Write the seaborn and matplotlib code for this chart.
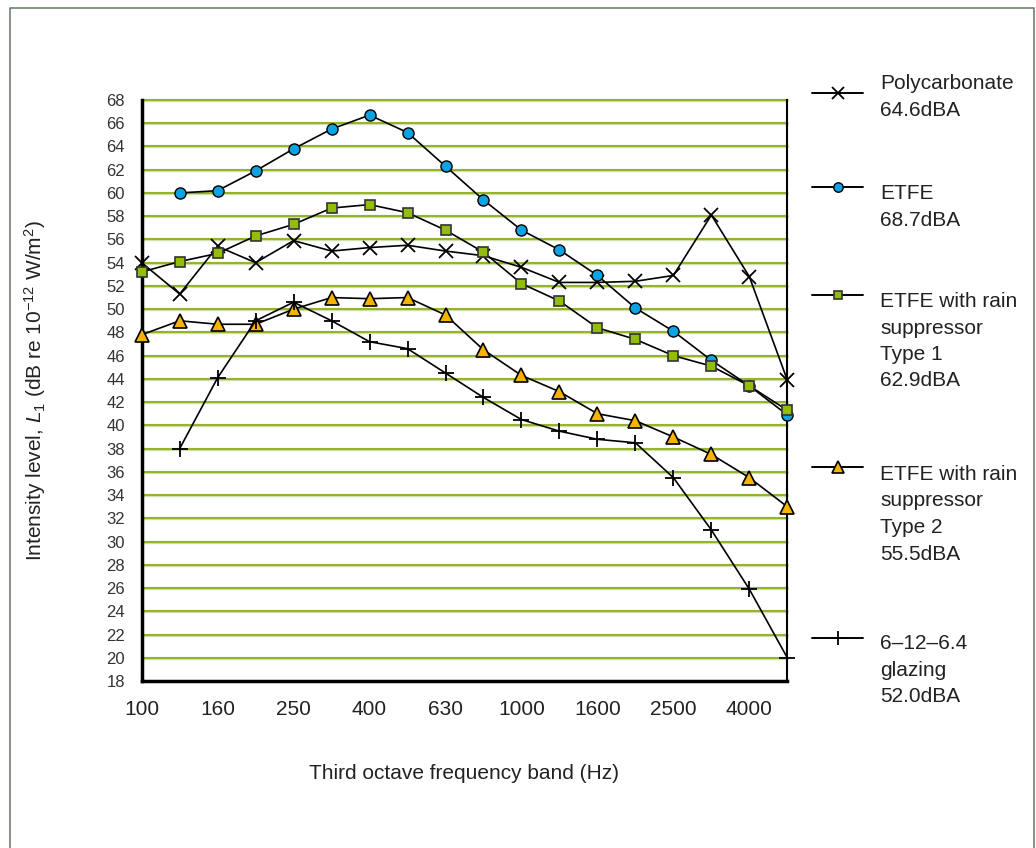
import matplotlib
matplotlib.use("Agg")
import matplotlib.pyplot as plt
from matplotlib.lines import Line2D
import numpy as np
import pandas as pd
import seaborn as sns

# third octave bands (Hz)
bands = [100, 125, 160, 200, 250, 315, 400, 500, 630, 800,
         1000, 1250, 1600, 2000, 2500, 3150, 4000, 5000]

polycarbonate = [54.0, 51.3, 55.4, 54.0, 55.9, 55.0, 55.3, 55.5, 55.0, 54.6,
                 53.6, 52.3, 52.3, 52.4, 52.9, 58.1, 52.8, 43.9]
etfe = [np.nan, 60.0, 60.2, 61.9, 63.8, 65.5, 66.7, 65.2, 62.3, 59.4,
        56.8, 55.1, 52.9, 50.1, 48.1, 45.6, 43.4, 40.9]
etfe_type1 = [53.2, 54.1, 54.8, 56.3, 57.3, 58.7, 59.0, 58.3, 56.8, 54.9,
              52.2, 50.7, 48.4, 47.4, 46.0, 45.1, 43.4, 41.3]
etfe_type2 = [47.8, 49.0, 48.7, 48.7, 50.0, 51.0, 50.9, 51.0, 49.5, 46.5,
              44.3, 42.9, 41.0, 40.4, 39.0, 37.5, 35.5, 33.0]
glazing = [np.nan, 38.0, 44.1, 49.0, 50.6, 49.0, 47.2, 46.6, 44.5, 42.4,
           40.5, 39.5, 38.8, 38.5, 35.5, 31.0, 25.9, 20.0]

series_names = ["Polycarbonate", "ETFE", "ETFE with rain suppressor Type 1",
                "ETFE with rain suppressor Type 2", "6-12-6.4 glazing"]
legend_labels = ["Polycarbonate\n64.6dBA",
                 "ETFE\n68.7dBA",
                 "ETFE with rain\nsuppressor\nType 1\n62.9dBA",
                 "ETFE with rain\nsuppressor\nType 2\n55.5dBA",
                 "6\u201312\u20136.4\nglazing\n52.0dBA"]

df = pd.DataFrame({"band": bands, series_names[0]: polycarbonate, series_names[1]: etfe,
                   series_names[2]: etfe_type1, series_names[3]: etfe_type2,
                   series_names[4]: glazing})
df["pos"] = np.arange(len(bands))
long = df.melt(id_vars=["band", "pos"], var_name="series", value_name="level").dropna()

sns.set_style("white")
plt.rcParams["font.family"] = ["Liberation Sans", "DejaVu Sans"]
plt.rcParams["mathtext.fontset"] = "custom"
plt.rcParams["mathtext.rm"] = "Liberation Sans"
plt.rcParams["mathtext.it"] = "Liberation Sans:italic"

styles = {
    series_names[0]: dict(marker="x", ms=10, mfc="black", mec="black", mew=1.3),
    series_names[1]: dict(marker="o", ms=8, mfc="#0ba3e3", mec="black", mew=1.0),
    series_names[2]: dict(marker="s", ms=7.5, mfc="#92bd0a", mec="#333333", mew=1.2),
    series_names[3]: dict(marker="^", ms=10, mfc="#f6b400", mec="black", mew=1.2),
    series_names[4]: dict(marker="+", ms=12, mfc="black", mec="black", mew=1.3),
}

fig = plt.figure(figsize=(10.36, 8.48), dpi=100)
ax = fig.add_axes([141.7 / 1036, 1 - 681 / 848, (787.3 - 141.7) / 1036, (681 - 100) / 848])

# grid lines (olive with a pale edge)
for v in range(20, 69, 2):
    ax.axhline(v, color="#cfe0a8", lw=2.4, zorder=0)
    ax.axhline(v, color="#84a50c", lw=1.1, zorder=0)

for name in series_names:
    sub = long[long["series"] == name]
    sns.lineplot(data=sub, x="pos", y="level", ax=ax, color="black", lw=1.2,
                 estimator=None, sort=False, legend=False, zorder=3, **styles[name])
for ln in ax.lines:
    ln.set_clip_on(False)

ax.set_xlim(0, len(bands) - 1)
ax.set_ylim(18, 68)
ax.set_xticks(np.arange(len(bands)))
ax.set_xticklabels([str(b) if i % 2 == 0 else "" for i, b in enumerate(bands)])
ax.set_yticks(range(18, 69, 2))
ax.set_yticklabels([str(v) for v in range(18, 69, 2)])
ax.tick_params(axis="x", direction="out", length=8, width=2, labelsize=15, pad=6,
               colors="black", labelcolor="#222222")
ax.tick_params(axis="y", direction="out", length=7, width=2, labelsize=12, pad=5,
               colors="black", labelcolor="#333333")
ax.set_xlabel("Third octave frequency band (Hz)", fontsize=15, labelpad=32, color="#222222")
ax.set_ylabel(r"Intensity level, $\mathit{L}_1$ (dB re 10$^{-12}$ W/m$^2$)",
              fontsize=15, color="#222222")
ax.yaxis.set_label_coords((48 - 141.7) / 645.6, 0.5)

ax.spines["top"].set_visible(False)
ax.spines["left"].set_linewidth(2.5)
ax.spines["bottom"].set_linewidth(2.5)
ax.spines["right"].set_linewidth(1.5)
for s in ["left", "bottom", "right"]:
    ax.spines[s].set_color("black")

# legend at the right
legend_y = [93, 187, 295, 467, 638]
text_y = [74, 184, 292, 465, 634]
for name, lab, ly, ty in zip(series_names, legend_labels, legend_y, text_y):
    st = dict(styles[name])
    st["ms"] = st["ms"] * 0.85
    fig.add_artist(Line2D([812 / 1036, 863 / 1036], [1 - ly / 848, 1 - ly / 848],
                          transform=fig.transFigure, color="black", lw=1.4))
    fig.add_artist(Line2D([838 / 1036], [1 - ly / 848], transform=fig.transFigure,
                          lw=0, **st))
    fig.text(880 / 1036, 1 - ty / 848, lab, fontsize=15, va="top", ha="left",
             linespacing=1.5, color="#222222")

# outer frame
fc = "#6f836f"
fig.add_artist(Line2D([10 / 1036, 10 / 1036, 1034 / 1036, 1034 / 1036],
                      [0, 1 - 8 / 848, 1 - 8 / 848, 0], transform=fig.transFigure,
                      color=fc, lw=1.2))

fig.savefig("out.png", dpi=100)
plt.close(fig)
